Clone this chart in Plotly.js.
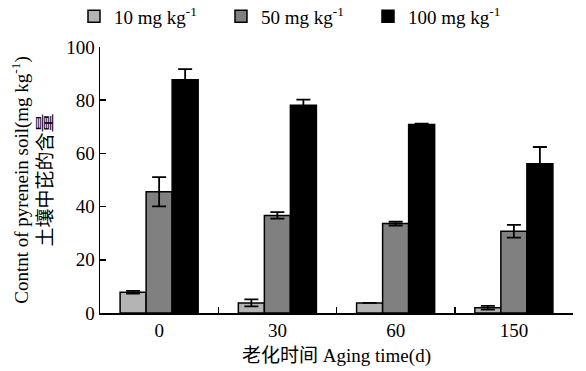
<!DOCTYPE html>
<html><head><meta charset="utf-8">
<script src="https://cdn.plot.ly/plotly-3.0.1.min.js"></script>
<style>body{margin:0;background:#fff}#chart{width:586px;height:371px}</style>
</head><body><div id="chart"></div>
<script>
const categories = ["0", "30", "60", "150"];
const seriesNames = ["10 mg kg<sup>-1</sup>", "50 mg kg<sup>-1</sup>", "100 mg kg<sup>-1</sup>"];
const low = [7.8, 3.8, 3.8, 2.0];
const lowErr = [0.5, 1.3, 0, 0.7];
const mid = [45.6, 36.7, 33.6, 30.7];
const midErr = [5.5, 1.2, 0.7, 2.4];
const high = [87.7, 78.1, 70.9, 56.1];
const highErr = [4.0, 2.1, 0.3, 6.3];
const colors = ["#b4b4b4", "#808080", "#000000"];

const font = "'Liberation Serif', 'Noto Sans CJK SC', serif";
const vals = [low, mid, high];
const errs = [lowErr, midErr, highErr];
const traces = vals.map((v, i) => ({
  type: "bar",
  name: seriesNames[i],
  x: categories,
  y: v,
  marker: {color: colors[i], line: {color: "#000", width: 1.5}},
  error_y: {type: "data", array: errs[i], visible: true, color: "#000", thickness: 1.8, width: 7}
}));

const layout = {
  width: 586, height: 371,
  margin: {l: 100, r: 13, t: 47, b: 58, autoexpand: false},
  paper_bgcolor: "#fff", plot_bgcolor: "#fff",
  font: {family: font, size: 19, color: "#000"},
  barmode: "group",
  bargap: 0.34,
  bargroupgap: 0,
  showlegend: true,
  legend: {orientation: "h", x: -0.055, y: 1.115, xanchor: "left", yanchor: "middle",
           entrywidth: 102, entrywidthmode: "pixels", font: {family: font, size: 19},
           itemwidth: 30, bgcolor: "rgba(0,0,0,0)"},
  xaxis: {
    type: "category",
    showline: true, linecolor: "#000", linewidth: 1.5,
    ticks: "inside", tickson: "boundaries", ticklen: 6, tickwidth: 1.5, tickcolor: "#000",
    showgrid: false, zeroline: false,
    tickfont: {family: font, size: 19},
    title: {text: "老化时间 Aging time(d)", font: {family: font, size: 19}, standoff: 8}
  },
  yaxis: {
    range: [0, 100], dtick: 20,
    showline: true, linecolor: "#000", linewidth: 1.5,
    ticks: "inside", ticklen: 6, tickwidth: 1.5, tickcolor: "#000",
    showgrid: false, zeroline: false,
    tickfont: {family: font, size: 19},
    title: {text: "Contnt of pyrenein soil(mg kg<sup>-1</sup>)<br>土壤中芘的含量", font: {family: font, size: 19}, standoff: 8}
  }
};
Plotly.newPlot("chart", traces, layout, {displayModeBar: false, staticPlot: true});
</script></body></html>
